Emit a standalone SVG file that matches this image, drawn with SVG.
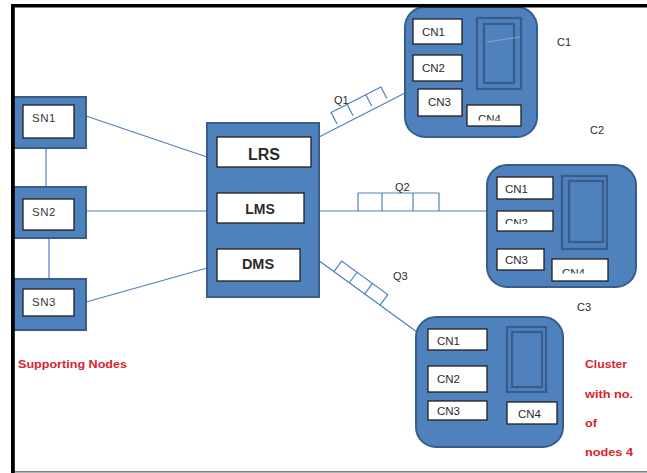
<svg xmlns="http://www.w3.org/2000/svg" width="647" height="473" viewBox="0 0 647 473">
<style>
.blue{fill:#4f81bd;stroke:#385d8a;stroke-width:2}
.wbox{fill:#fff;stroke:#1f1f1f;stroke-width:1.3}
.con{stroke:#4f81bd;stroke-width:1.2;fill:none}
.q{stroke:#4f81bd;stroke-width:1.2;fill:none}
.lbl{font-family:"Liberation Sans",Arial,sans-serif;fill:#2a2a2a}
.cn{font-family:"Liberation Sans",Arial,sans-serif;font-size:11.5px;fill:#2a2a2a}
.sn{font-family:"Liberation Sans",Arial,sans-serif;font-size:11.5px;fill:#3a3a3a;letter-spacing:0.5px}
.red{font-family:"Liberation Sans",Arial,sans-serif;font-size:11px;font-weight:bold;fill:#d9232e}
.st{fill:#4f81bd;stroke:#385d8a;stroke-width:2.2}
</style>
<defs>
<clipPath id="k1"><rect x="467" y="105" width="54" height="15.5"/></clipPath>
<clipPath id="k2"><rect x="497" y="211" width="56" height="13"/></clipPath>
<clipPath id="k3"><rect x="552" y="259" width="56" height="14.5"/></clipPath>
</defs>
<rect width="647" height="473" fill="#fff"/>

<g id="connectors">
<line class="con" x1="86" y1="116" x2="207" y2="157"/>
<line class="con" x1="86" y1="211" x2="207" y2="211"/>
<line class="con" x1="86" y1="302" x2="207" y2="268"/>
<line class="con" x1="46" y1="148" x2="46" y2="187"/>
<line class="con" x1="49" y1="238" x2="49" y2="279"/>
<line class="con" x1="319" y1="137" x2="405" y2="93"/>
<line class="con" x1="319" y1="211" x2="487" y2="211"/>
<line class="con" x1="318" y1="260" x2="417" y2="332"/>
</g>

<g id="Q1">
<path class="q" transform="translate(337,124) rotate(-27)" d="M0,0 V-13 H56 V0 M18,0 V-13 M39,0 V-13"/>
<text class="lbl" x="334" y="104" font-size="11">Q1</text>
</g>
<g id="Q2">
<path class="q" d="M358,211 V193 H439 V211 M382,211 V193 M413,211 V193"/>
<text class="lbl" x="395" y="191" font-size="11">Q2</text>
</g>
<g id="Q3">
<path class="q" transform="translate(334,271.6) rotate(36)" d="M0,0 V-13 H57 V0 M19,0 V-13 M38,0 V-13"/>
<text class="lbl" x="393" y="280" font-size="11">Q3</text>
</g>

<g id="SN1">
<rect class="blue" x="12" y="97" width="74" height="51"/>
<rect class="wbox" x="23" y="105" width="51" height="33"/>
<text class="sn" x="32" y="122">SN1</text>
</g>
<g id="SN2">
<rect class="blue" x="12" y="187" width="74" height="51"/>
<rect class="wbox" x="23" y="199" width="51" height="31"/>
<text class="sn" x="32" y="216">SN2</text>
</g>
<g id="SN3">
<rect class="blue" x="12" y="279" width="74" height="51"/>
<rect class="wbox" x="23" y="289" width="51" height="27"/>
<text class="sn" x="32" y="306">SN3</text>
</g>

<g id="server">
<rect class="blue" x="207" y="123" width="112" height="174"/>
<rect class="wbox" x="217" y="137" width="94" height="30"/>
<text class="lbl" x="264" y="160" font-size="16" font-weight="bold" text-anchor="middle">LRS</text>
<rect class="wbox" x="217" y="193" width="87" height="30"/>
<text class="lbl" x="260" y="213.5" font-size="14" font-weight="bold" text-anchor="middle">LMS</text>
<rect class="wbox" x="217" y="249" width="83" height="32"/>
<text class="lbl" x="258" y="269" font-size="14.5" font-weight="bold" text-anchor="middle">DMS</text>
</g>

<g id="C1">
<rect class="blue" x="405" y="7" width="132" height="130" rx="20"/>
<rect class="st" x="477" y="18" width="44" height="71"/>
<rect class="st" x="484" y="24" width="30" height="59"/>
<line x1="487" y1="42" x2="520" y2="37" stroke="#8fb0dc" stroke-width="0.8"/>
<rect class="wbox" x="413" y="19" width="49" height="25"/>
<text class="cn" x="422" y="36">CN1</text>
<rect class="wbox" x="413" y="55" width="49" height="26"/>
<text class="cn" x="422" y="72">CN2</text>
<rect class="wbox" x="418" y="89" width="44" height="27"/>
<text class="cn" x="428" y="106">CN3</text>
<rect class="wbox" x="467" y="105" width="54" height="21"/>
<text class="cn" x="478" y="122.5" clip-path="url(#k1)">CN4</text>
<text class="lbl" x="557" y="46" font-size="11">C1</text>
</g>

<g id="C2">
<rect class="blue" x="487" y="165" width="149" height="122" rx="20"/>
<rect class="st" x="562" y="176" width="45" height="73"/>
<rect class="st" x="569" y="181" width="34" height="61"/>
<rect class="wbox" x="497" y="177" width="56" height="22"/>
<text class="cn" x="505" y="193">CN1</text>
<rect class="wbox" x="497" y="211" width="56" height="20"/>
<text class="cn" x="505" y="227" clip-path="url(#k2)">CN2</text>
<rect class="wbox" x="497" y="249" width="47" height="21"/>
<text class="cn" x="505" y="264">CN3</text>
<rect class="wbox" x="552" y="259" width="56" height="22"/>
<text class="cn" x="562" y="277" clip-path="url(#k3)">CN4</text>
<text class="lbl" x="590" y="134" font-size="11">C2</text>
</g>

<g id="C3">
<rect class="blue" x="416" y="317" width="147" height="130" rx="20"/>
<rect class="st" x="507" y="327" width="39" height="65"/>
<rect class="st" x="512" y="332" width="30" height="55"/>
<rect class="wbox" x="428" y="329" width="59" height="21"/>
<text class="cn" x="437" y="345">CN1</text>
<rect class="wbox" x="428" y="366" width="59" height="26"/>
<text class="cn" x="437" y="383">CN2</text>
<rect class="wbox" x="428" y="401" width="59" height="19"/>
<text class="cn" x="437" y="415">CN3</text>
<rect class="wbox" x="507" y="402" width="50" height="22"/>
<text class="cn" x="518" y="418">CN4</text>
<text class="lbl" x="577" y="311" font-size="11">C3</text>
</g>

<g id="labels">
<text class="red" x="18" y="368" textLength="109" lengthAdjust="spacingAndGlyphs">Supporting Nodes</text>
<text class="red" x="585" y="368" textLength="42" lengthAdjust="spacingAndGlyphs">Cluster</text>
<text class="red" x="585" y="398" textLength="48" lengthAdjust="spacingAndGlyphs">with no.</text>
<text class="red" x="585" y="427" textLength="12" lengthAdjust="spacingAndGlyphs">of</text>
<text class="red" x="585" y="456" textLength="48" lengthAdjust="spacingAndGlyphs">nodes 4</text>
</g>

<g id="frame">
<rect x="11" y="4" width="636" height="3.5" fill="#000"/>
<rect x="11" y="4" width="3.8" height="469" fill="#000"/>
<rect x="15" y="471" width="632" height="1.6" fill="#808080"/>
</g>
</svg>
